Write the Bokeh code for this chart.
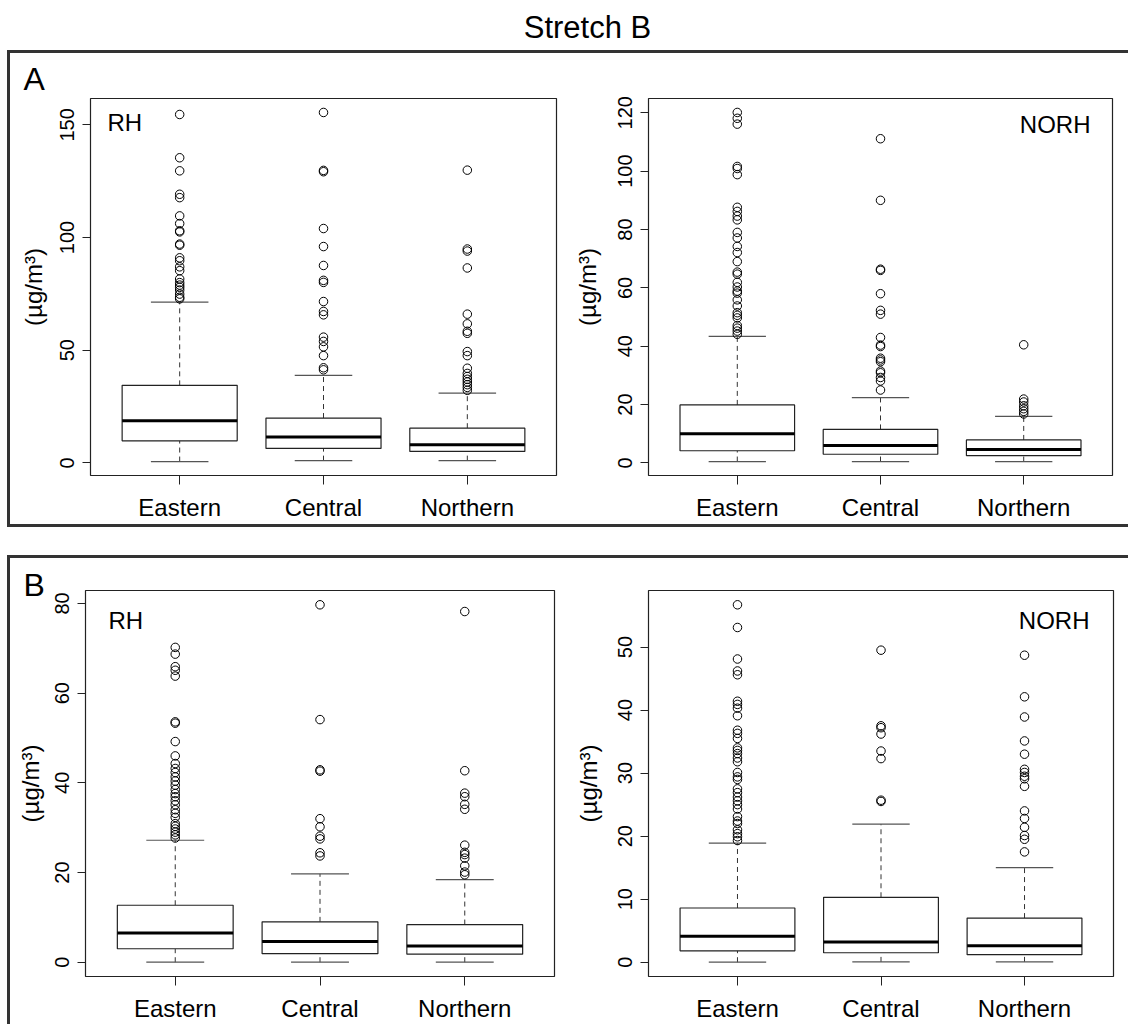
import numpy as np
from bokeh.plotting import figure
from bokeh.models import Range1d, FixedTicker, Label, Title, Spacer, Row, Column, ColumnDataSource
from bokeh.embed import file_html
from bokeh.resources import INLINE

FONT = "Liberation Sans"

categories = ["Eastern", "Central", "Northern"]
title_text = "Stretch B"
ylabel_text = "(µg/m³)"

# ---------------- Panel A, RH ----------------
a_rh_q1 = [9.8, 6.4, 5.1]
a_rh_med = [18.7, 11.5, 8.1]
a_rh_q3 = [34.4, 19.9, 15.4]
a_rh_lo = [0.6, 1.0, 1.0]
a_rh_hi = [71.3, 38.8, 31.0]
a_rh_out = [
    [154.6, 135.4, 129.6, 119.2, 117.7, 109.6, 106.2, 103.0, 102.5, 97.1, 96.6, 91.0,
     89.7, 87.0, 85.3, 81.6, 80.0, 78.9, 77.9, 76.7, 74.9, 73.5, 72.8],
    [155.5, 129.8, 129.2, 104.0, 96.0, 87.6, 81.0, 80.1, 71.6, 67.2, 65.7, 55.8, 53.9,
     51.5, 47.6, 42.2, 41.3],
    [129.9, 94.9, 94.0, 86.5, 66.0, 61.7, 58.4, 57.5, 49.4, 47.6, 42.0, 39.7, 38.3,
     37.1, 35.9, 34.7, 33.5, 32.2],
]
a_rh_ticks = [0, 50, 100, 150]

# ---------------- Panel A, NORH ----------------
a_norh_q1 = [4.2, 3.0, 2.5]
a_norh_med = [10.0, 6.0, 4.6]
a_norh_q3 = [19.9, 11.5, 7.9]
a_norh_lo = [0.5, 0.5, 0.5]
a_norh_hi = [43.4, 22.4, 16.0]
a_norh_out = [
    [120.1, 118.1, 116.1, 101.6, 100.9, 98.8, 87.6, 86.2, 84.6, 83.3, 79.0, 77.1, 74.2,
     72.1, 69.0, 65.4, 64.7, 61.9, 60.3, 58.9, 58.2, 55.9, 53.8, 51.5, 50.6, 49.7, 47.1,
     46.2, 45.2, 44.1],
    [111.1, 90.0, 66.4, 66.0, 58.0, 52.3, 51.0, 43.0, 40.4, 39.9, 35.9, 35.3, 34.7, 31.5,
     30.9, 29.3, 28.1, 25.0],
    [40.5, 21.9, 20.9, 19.6, 18.6, 17.7, 16.8],
]
a_norh_ticks = [0, 20, 40, 60, 80, 100, 120]

# ---------------- Panel B, RH ----------------
b_rh_q1 = [3.0, 1.9, 1.8]
b_rh_med = [6.5, 4.6, 3.6]
b_rh_q3 = [12.7, 9.0, 8.4]
b_rh_lo = [0.0, 0.0, 0.0]
b_rh_hi = [27.2, 19.7, 18.4]
b_rh_out = [
    [70.2, 68.7, 65.9, 65.1, 63.8, 53.6, 53.3, 49.2, 46.0, 44.3, 43.2, 42.3, 41.3, 40.4,
     39.5, 38.5, 37.6, 36.9, 36.0, 35.1, 34.0, 33.2, 32.3, 30.9, 30.3, 29.7, 29.0, 28.4, 27.7],
    [79.7, 54.1, 42.9, 42.6, 32.0, 30.2, 28.1, 27.5, 24.4, 23.7],
    [78.2, 42.7, 37.7, 36.9, 35.2, 34.1, 26.1, 24.5, 24.0, 23.2, 21.5, 20.1, 19.5],
]
b_rh_ticks = [0, 20, 40, 60, 80]

# ---------------- Panel B, NORH ----------------
b_norh_q1 = [1.8, 1.5, 1.2]
b_norh_med = [4.1, 3.2, 2.6]
b_norh_q3 = [8.6, 10.3, 7.0]
b_norh_lo = [0.0, 0.05, 0.05]
b_norh_hi = [18.9, 21.9, 15.0]
b_norh_out = [
    [56.7, 53.1, 48.1, 46.2, 45.6, 41.4, 40.9, 40.3, 39.1, 36.8, 36.3, 35.5, 34.0, 33.6,
     33.1, 32.4, 31.8, 30.1, 29.4, 29.0, 27.5, 26.9, 26.2, 25.6, 25.0, 24.3, 23.1, 22.4,
     22.0, 21.0, 20.4, 19.9, 19.3],
    [49.5, 37.5, 37.2, 36.2, 33.5, 32.3, 25.7, 25.5],
    [48.7, 42.1, 38.9, 35.1, 33.0, 30.6, 30.1, 29.5, 29.1, 27.9, 24.0, 22.8, 21.4, 20.1,
     19.5, 17.5],
]
b_norh_ticks = [0, 10, 20, 30, 40, 50]

BOXW = 0.8
STAPLE = 0.4


def boxplot(q1, med, q3, lo, hi, outs, ticks, width, height, mb, corner, ylab,
            letter=None):
    n = len(categories)
    xs = np.arange(1, n + 1, dtype=float)
    x0, x1 = 0.5, n + 0.5
    xpad = 0.04 * (x1 - x0)
    allv = list(lo) + list(hi) + [v for o in outs for v in o]
    y0, y1 = min(allv), max(allv)
    ypad = 0.04 * (y1 - y0)

    p = figure(width=width, height=height, toolbar_location=None, output_backend="svg",
               x_range=Range1d(x0 - xpad, x1 + xpad), y_range=Range1d(y0 - ypad, y1 + ypad),
               min_border=0, title=None)
    p.min_border_left, p.min_border_right, p.min_border_top, p.min_border_bottom = mb
    p.background_fill_color = "white"
    p.border_fill_color = "white"
    p.outline_line_color = "#222222"
    p.outline_line_width = 1.2
    p.grid.visible = False

    src = ColumnDataSource(dict(
        x=xs, q1=q1, med=med, q3=q3, lo=lo, hi=hi,
        bl=xs - BOXW / 2, br=xs + BOXW / 2, sl=xs - STAPLE / 2, sr=xs + STAPLE / 2))

    p.segment(x0="x", y0="q3", x1="x", y1="hi", source=src, line_color="#333333",
              line_width=1, line_dash="5 4")
    p.segment(x0="x", y0="lo", x1="x", y1="q1", source=src, line_color="#333333",
              line_width=1, line_dash="5 4")
    p.segment(x0="sl", y0="hi", x1="sr", y1="hi", source=src, line_color="#555555", line_width=1.2)
    p.segment(x0="sl", y0="lo", x1="sr", y1="lo", source=src, line_color="#555555", line_width=1.2)
    p.quad(left="bl", right="br", bottom="q1", top="q3", source=src, fill_color="white",
           line_color="#222222", line_width=1.2)
    p.segment(x0="bl", y0="med", x1="br", y1="med", source=src, line_color="black", line_width=3)
    ox = [xs[i] for i, o in enumerate(outs) for _ in o]
    oy = [v for o in outs for v in o]
    p.scatter(ox, oy, marker="circle", size=8.5, fill_color=None, line_color="black",
              line_width=1)

    xa = p.xaxis[0]
    xa.ticker = FixedTicker(ticks=list(xs))
    ov = {float(x): c for x, c in zip(xs, categories)}
    ov.update({int(x): c for x, c in zip(xs, categories)})
    xa.major_label_overrides = ov
    xa.axis_line_color = None
    xa.minor_tick_line_color = None
    xa.major_tick_in = 0
    xa.major_tick_out = 9
    xa.major_tick_line_color = "#222222"
    xa.major_label_text_font = FONT
    xa.major_label_text_font_size = "24px"
    xa.major_label_text_color = "black"
    xa.major_label_standoff = 9

    ya = p.yaxis[0]
    ya.ticker = FixedTicker(ticks=ticks)
    ya.axis_line_color = None
    ya.minor_tick_line_color = None
    ya.major_tick_in = 0
    ya.major_tick_out = 8
    ya.major_tick_line_color = "#222222"
    ya.major_label_orientation = "vertical"
    ya.major_label_text_font = FONT
    ya.major_label_text_font_size = "20px"
    ya.major_label_text_color = "black"
    ya.major_label_standoff = 8

    # y-axis label as a vertical title on the left side
    yoff, ysto = ylab
    p.add_layout(Title(text=ylabel_text, align="center", vertical_align="top",
                       offset=yoff, standoff=ysto,
                       text_font=FONT, text_font_size="24px", text_font_style="normal",
                       text_color="black"), "left")

    if letter is not None:
        t, off, sto = letter
        p.add_layout(Title(text=t, align="left", offset=off, standoff=sto,
                           text_font=FONT, text_font_size="32px", text_font_style="normal",
                           text_color="black"), "above")

    ctext, cx, cy, calign = corner
    p.add_layout(Label(x=cx, y=cy, x_units="screen", y_units="screen", text=ctext,
                       text_font=FONT, text_font_size="24px", text_align=calign,
                       text_baseline="alphabetic", text_color="black"))
    return p


# Panel A (content height 471)
pA1 = boxplot(a_rh_q1, a_rh_med, a_rh_q3, a_rh_lo, a_rh_hi, a_rh_out, a_rh_ticks,
              550, 471, (80, 4, 45, 49), ("RH", 17, 353, "left"), (41, 18),
              letter=("A", -67, 4))
pA2 = boxplot(a_norh_q1, a_norh_med, a_norh_q3, a_norh_lo, a_norh_hi, a_norh_out, a_norh_ticks,
              568, 471, (87, 16, 45, 49), ("NORH", 442, 351, "right"), (40, 26))

# Panel B (content height 466)
pB1 = boxplot(b_rh_q1, b_rh_med, b_rh_q3, b_rh_lo, b_rh_hi, b_rh_out, b_rh_ticks,
              550, 466, (75, 6, 32, 47), ("RH", 23, 356, "left"), (-1, 13),
              letter=("B", -62, -24))
pB2 = boxplot(b_norh_q1, b_norh_med, b_norh_q3, b_norh_lo, b_norh_hi, b_norh_out, b_norh_ticks,
              568, 466, (88, 15, 32, 47), ("NORH", 441, 356, "right"), (13, 24))

# Title strip
pt = figure(width=1128, height=50, toolbar_location=None, output_backend="svg",
            x_range=Range1d(0, 1), y_range=Range1d(0, 1), min_border=0, title=None,
            x_axis_location=None, y_axis_location=None)
pt.grid.visible = False
pt.outline_line_color = None
pt.add_layout(Label(x=587, y=23, x_units="screen", y_units="screen", text=title_text,
                    text_font=FONT, text_font_size="31px", text_align="center",
                    text_baseline="alphabetic", text_color="black"))

BORDER = "3px solid #333333"
rowA = Row(children=[pA1, pA2], margin=(0, 0, 0, 7),
           styles={"border-top": BORDER, "border-left": BORDER, "border-bottom": BORDER})
rowB = Row(children=[pB1, pB2], margin=(0, 0, 0, 7),
           styles={"border-top": BORDER, "border-left": BORDER})

layout = Column(children=[pt, rowA, Spacer(width=10, height=28), rowB])

open("out.html", "w").write(file_html(layout, INLINE))
